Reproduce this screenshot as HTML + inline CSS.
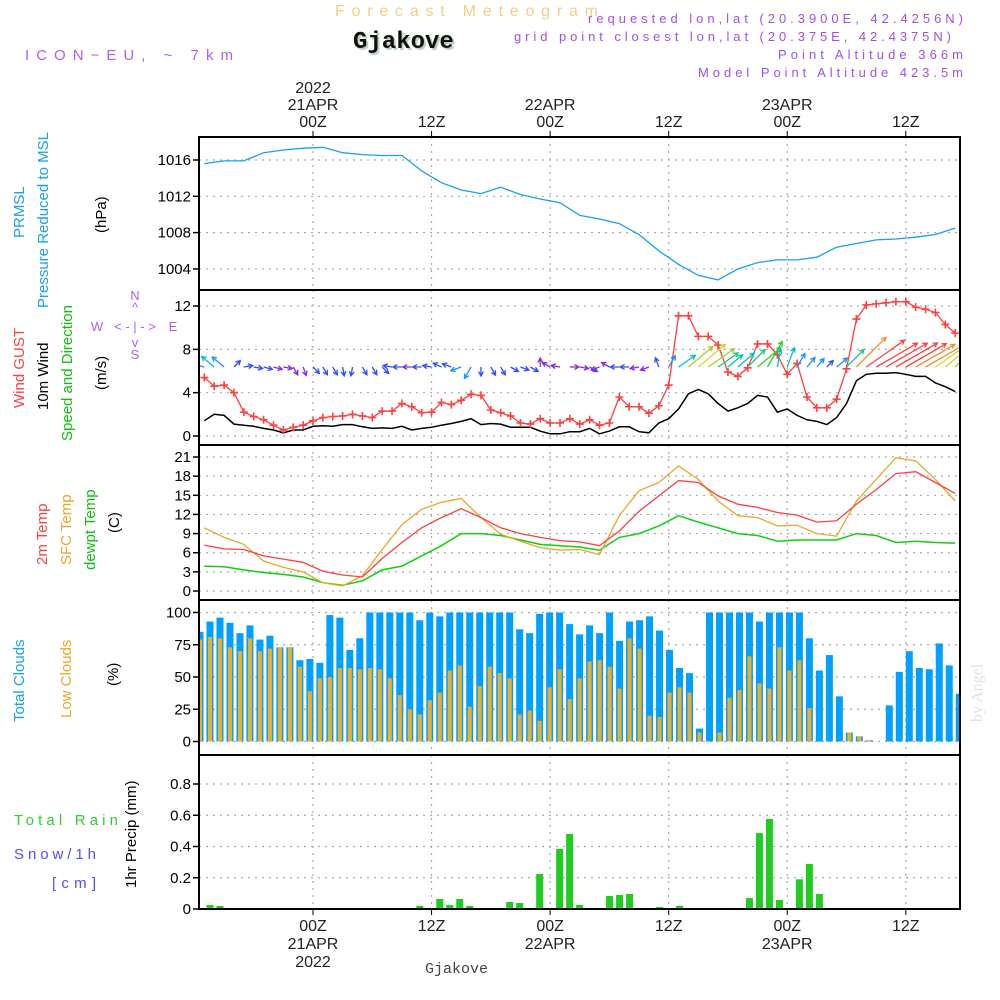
<!DOCTYPE html>
<html><head><meta charset="utf-8"><style>
html,body{margin:0;padding:0;background:#fff;}
svg{display:block;font-family:"Liberation Sans",sans-serif;}
</style></head><body>
<svg id="chart" width="1000" height="1000" viewBox="0 0 1000 1000" xmlns="http://www.w3.org/2000/svg">
<rect x="0" y="0" width="1000" height="1000" fill="#fff"/>
<text x="335" y="16" font-size="16" fill="#f3cf85" textLength="263">Forecast Meteogram</text>
<text x="355" y="50" font-size="24" font-weight="bold" font-family="Liberation Mono, monospace" fill="#bcd3bc">Gjakove</text>
<text x="353" y="48" font-size="24" font-weight="bold" font-family="Liberation Mono, monospace" fill="#111">Gjakove</text>
<text x="25" y="60" font-size="15" fill="#b060f0" textLength="208">ICON−EU, ~ 7km</text>
<g font-size="13" fill="#a050e8" text-anchor="end">
<text x="963" y="23" textLength="375">requested lon,lat (20.3900E, 42.4256N)</text>
<text x="951" y="41" textLength="437">grid point closest lon,lat (20.375E, 42.4375N)</text>
<text x="963" y="59" textLength="185">Point Altitude 366m</text>
<text x="963" y="77" textLength="265">Model Point Altitude 423.5m</text>
</g>
<g id="grid"></g>
<g id="marks"></g>
<g id="axes"></g>
<g font-size="15">
<text transform="translate(24,238) rotate(-90)" fill="#18a0f0">PRMSL</text>
<text transform="translate(48,308) rotate(-90)" fill="#18a0f0">Pressure Reduced to MSL</text>
<text transform="translate(106,233) rotate(-90)" fill="#000">(hPa)</text>
<text transform="translate(24,408) rotate(-90)" fill="#ff4040">Wind GUST</text>
<text transform="translate(48,410) rotate(-90)" fill="#000">10m Wind</text>
<text transform="translate(72,441) rotate(-90)" fill="#10c010">Speed and Direction</text>
<text transform="translate(106,390) rotate(-90)" fill="#000">(m/s)</text>
<text transform="translate(47,565) rotate(-90)" fill="#ff4040">2m Temp</text>
<text transform="translate(71,565) rotate(-90)" fill="#e8a828">SFC Temp</text>
<text transform="translate(95,570) rotate(-90)" fill="#10c010">dewpt Temp</text>
<text transform="translate(119,533) rotate(-90)" fill="#000">(C)</text>
<text transform="translate(24,722) rotate(-90)" fill="#18a0f0">Total Clouds</text>
<text transform="translate(71,718) rotate(-90)" fill="#e8a828">Low Clouds</text>
<text transform="translate(118,686) rotate(-90)" fill="#000">(%)</text>
<text transform="translate(136,888) rotate(-90)" fill="#000">1hr Precip (mm)</text>
<text x="14" y="825" fill="#30d030" textLength="104">Total  Rain</text>
<text x="14" y="859" fill="#5050ff" textLength="82">Snow/1h</text>
<text x="52" y="888" fill="#5050ff" textLength="44">[cm]</text>
</g>
<g font-size="13" fill="#b060f0" text-anchor="middle">
<text x="135" y="300">N</text><text x="135" y="312">^</text>
<text x="135" y="331">&lt; - | - &gt;</text>
<text x="97" y="331">W</text><text x="173" y="331">E</text>
<text x="135" y="347">v</text><text x="135" y="359">S</text>
</g>
<text transform="translate(982,722) rotate(-90)" font-size="16" font-family="Liberation Serif, serif" fill="#dde4dd">by Angel</text>
<text x="425" y="973" font-size="15" font-family="Liberation Mono, monospace" fill="#444">Gjakove</text>
</svg>
<script>
// ---- data ----
const tickHours = [0, 12, 24, 36, 48, 60];
const topTickLabels = [["2022","21APR","00Z"],["12Z"],["22APR","00Z"],["12Z"],["23APR","00Z"],["12Z"]];
const bottomTickLabels = [["00Z","21APR","2022"],["12Z"],["00Z","22APR"],["12Z"],["00Z","23APR"],["12Z"]];
const pressureTicks = [1004, 1008, 1012, 1016];
const windTicks = [0, 4, 8, 12];
const tempTicks = [0, 3, 6, 9, 12, 15, 18, 21];
const cloudTicks = [0, 25, 50, 75, 100];
const precipTicks = [0, 0.2, 0.4, 0.6, 0.8];

const pressureHours = [-11,-9,-7,-5,-3,-1,1,3,5,7,9,11,13,15,17,19,21,23,25,27,29,31,33,35,37,39,41,43,45,47,49,51,53,55,57,59,61,63,65];
const pressure = [1015.6,1015.9,1015.9,1016.8,1017.1,1017.3,1017.4,1016.8,1016.6,1016.5,1016.5,1014.8,1013.5,1012.7,1012.3,1013.0,1012.2,1011.7,1011.3,1009.9,1009.5,1009.0,1007.8,1006.0,1004.5,1003.3,1002.8,1004.0,1004.7,1005.0,1005.0,1005.3,1006.4,1006.8,1007.2,1007.3,1007.5,1007.8,1008.5];

const windHourStart = -11;
const gust = [5.4,4.6,4.7,4.0,2.2,1.8,1.5,1.0,0.55,0.8,1.0,1.4,1.7,1.8,1.85,2.0,1.85,1.7,2.3,2.3,3.0,2.7,2.15,2.2,3.1,2.9,3.3,3.85,3.75,2.4,2.15,1.85,1.2,1.1,1.6,1.2,1.2,1.6,1.1,1.5,
 1.0,1.2,3.6,2.7,2.7,2.1,2.8,4.7,11.1,11.1,9.2,9.2,8.4,5.9,5.5,6.3,8.5,8.5,7.5,5.7,6.7,3.6,2.6,2.6,3.4,6.2,10.8,12.1,12.2,12.3,12.4,12.4,11.9,11.7,11.4,10.3,9.5];
const windSpeed = [1.4,2.0,1.9,1.1,1.0,0.9,0.7,0.55,0.3,0.55,0.55,0.9,0.95,0.9,1.05,1.05,0.85,0.7,0.75,0.7,0.9,0.55,0.7,0.8,1.0,1.15,1.35,1.6,1.05,1.15,1.1,0.8,0.8,0.8,0.45,0.2,0.2,0.4,0.4,0.7,
 0.2,0.45,0.85,0.85,0.4,0.3,1.2,1.6,2.5,3.9,4.3,3.9,3.0,2.3,2.6,3.0,3.75,3.6,2.2,2.5,1.9,1.5,1.35,1.05,1.7,3.0,5.1,5.7,5.8,5.8,5.85,5.7,5.5,5.5,4.9,4.55,4.1];
const windDir = [165,140,140,45,10,-10,-15,-15,-10,-60,-70,-45,-60,-60,-80,-100,-60,-60,-45,170,180,180,180,170,155,160,200,-120,-90,-60,-60,-30,-20,-30,90,150,170,0,-10,-30,
 200,150,180,180,190,200,110,60,35,40,40,35,35,40,40,45,40,60,80,70,60,50,50,45,40,45,45,35,30,30,30,30,30,30,35,40,45];

const tempHours = pressureHours;
const temp2m = [7.2,6.6,6.5,5.5,5.0,4.5,3.1,2.5,2.2,5.1,7.6,9.9,11.5,12.9,11.5,9.9,9.0,8.4,7.9,7.7,7.1,9.4,12.5,14.9,17.3,17.0,14.9,13.6,13.1,12.3,11.9,10.8,11.0,13.6,15.9,18.4,18.7,17.0,15.3];
const tempSfc = [9.9,8.4,7.3,4.7,3.7,3.0,1.3,0.8,2.4,6.5,10.4,12.8,13.9,14.5,11.5,8.9,7.8,6.8,6.4,6.5,5.7,11.8,15.7,17.0,19.6,17.5,14.1,11.8,11.5,10.2,10.3,9.0,8.6,14.1,17.5,20.9,20.4,17.5,14.1];
const dewpt = [3.9,3.8,3.3,2.9,2.6,2.2,1.3,0.9,1.6,3.3,3.9,5.5,7.1,9.0,9.0,8.7,8.0,7.3,7.1,6.9,6.4,8.4,9.0,10.2,11.8,10.8,9.9,9.0,8.7,7.8,8.0,8.0,8.0,9.0,8.7,7.6,7.8,7.6,7.5];

const totalClouds = [85,93,96,92,84,90,79,82,73,73,63,64,61,98,96,71,80,100,100,100,100,100,94,100,97,100,100,100,100,100,100,100,87,84,99,100,100,91,83,90,
 84,100,78,93,94,97,86,71,57,53,10,100,100,100,100,100,93,100,100,100,100,80,55,67,35,7,4,1,0,28,54,70,57,56,76,59,37];
const lowClouds = [79,81,80,73,70,80,70,72,73,73,58,39,49,50,57,57,56,57,56,49,36,25,21,32,38,55,59,27,43,58,53,49,21,24,16,42,56,33,49,62,
 63,58,41,80,72,20,19,38,42,38,7,0,7,34,40,66,45,41,73,55,63,26,0,0,0,7,4,1,0,0,0,0,0,0,0,0,0];

const precipIndex = [1,2,22,24,25,26,27,31,32,34,36,37,38,41,42,43,46,48,55,56,57,58,60,61,62];
const precip = [0.026,0.019,0.02,0.064,0.026,0.064,0.02,0.045,0.038,0.224,0.384,0.48,0.026,0.083,0.09,0.096,0.013,0.02,0.07,0.486,0.576,0.058,0.19,0.288,0.096];

// ---- scales ----
const X0 = 199, X1 = 960;
const tx = h => 313 + 9.88 * h;
const xb = i => 200 + 9.99 * i;
const yP = v => 160 + (1016 - v) * 9.08;
const yW = v => 436 - v * 10.83;
const yT = v => 591 - v * 6.38;
const yC = v => 741.5 - v * 1.29;
const yR = v => 909 - v * 156.25;
const panels = [[137,290],[290,445],[445,600],[600,755],[755,909]];

const NS = "http://www.w3.org/2000/svg";
function mk(tag, attrs, parent) {
  const e = document.createElementNS(NS, tag);
  for (const k in attrs) e.setAttribute(k, attrs[k]);
  parent.appendChild(e);
  return e;
}
const grid = document.getElementById('grid');
const marks = document.getElementById('marks');
const axes = document.getElementById('axes');

const defs = mk('defs', {}, document.getElementById('chart'));
panels.forEach((p, k) => {
  const cp = mk('clipPath', {id: 'clip' + k}, defs);
  mk('rect', {x: X0, y: p[0], width: X1 - X0, height: p[1] - p[0]}, cp);
});

tickHours.forEach(h => {
  panels.forEach(p => {
    const l = mk('line', {x1: tx(h), x2: tx(h), y1: p[0], y2: p[1], stroke: '#aaa', 'stroke-dasharray': '2,5', 'stroke-width': 1.2}, grid);
    
    
  });
});

function yAxis(ticks, sc, fmt, name) {
  ticks.forEach(v => {
    const y = sc(v);
    const g = mk('line', {x1: X0, x2: X1, y1: y, y2: y, stroke: '#aaa', 'stroke-dasharray': '2,5', 'stroke-width': 1.2}, grid);
    
    
    mk('line', {x1: X0 - 6, x2: X0, y1: y, y2: y, stroke: '#000', 'stroke-width': 1.5}, axes);
    const t = mk('text', {x: X0 - 8, y: y + 5, 'text-anchor': 'end', 'font-size': 15, fill: '#000'}, axes);
    t.textContent = fmt(v);
    
    
  });
}
yAxis(pressureTicks, yP, v => v, 'pressure');
yAxis(windTicks, yW, v => v, 'wind');
yAxis(tempTicks, yT, v => v, 'temp');
yAxis(cloudTicks, yC, v => v, 'cloud');
yAxis(precipTicks, yR, v => v === 0 ? '0' : v.toFixed(1), 'precip');

tickHours.forEach((h, k) => {
  const x = tx(h);
  mk('line', {x1: x, x2: x, y1: 131, y2: 137, stroke: '#000', 'stroke-width': 1}, axes);
  mk('line', {x1: x, x2: x, y1: 909, y2: 915, stroke: '#000', 'stroke-width': 1}, axes);
  const top = topTickLabels[k];
  top.forEach((s, j) => {
    const t = mk('text', {x: x, y: 127 - (top.length - 1 - j) * 17, 'text-anchor': 'middle', 'font-size': 16, fill: '#222'}, axes);
    t.textContent = s;
    
    
  });
  bottomTickLabels[k].forEach((s, j) => {
    const t = mk('text', {x: x, y: 931 + j * 18, 'text-anchor': 'middle', 'font-size': 16, fill: '#222'}, axes);
    t.textContent = s;
    
    
  });
});

panels.forEach(p => {
  const r = mk('rect', {x: X0, y: p[0], width: X1 - X0, height: p[1] - p[0], fill: 'none', stroke: '#000', 'stroke-width': 2}, axes);
  
  
});

function line(xs, ys, color, name, clip, w) {
  const pts = xs.map((x, i) => x.toFixed(1) + ',' + ys[i].toFixed(1)).join(' ');
  const pl = mk('polyline', {points: pts, fill: 'none', stroke: color, 'stroke-width': w || 1.3, 'clip-path': 'url(#clip' + clip + ')'}, marks);
  
  
}

line(pressureHours.map(tx), pressure.map(yP), '#18a0f0', 'pressure-line', 0);

const windX = windSpeed.map((_, i) => tx(windHourStart + i));
line(windX, windSpeed.map(yW), '#000', 'wind-speed-line', 1, 1.5);
line(windX, gust.map(yW), '#ff4040', 'wind-gust-line', 1);
gust.forEach((v, i) => {
  const x = windX[i], y = yW(v);
  const c = mk('path', {d: `M${x-4},${y}H${x+4}M${x},${y-4}V${y+4}`, stroke: '#ff4040', 'stroke-width': 1.6}, marks);
  
  
});
function windColor(s) {
  if (s < 0.7) return '#8a2be2';
  if (s < 1.3) return '#3050ff';
  if (s < 2.0) return '#1e90ff';
  if (s < 2.8) return '#00c0d0';
  if (s < 3.4) return '#20c880';
  if (s < 3.8) return '#30d030';
  if (s < 4.2) return '#a8d030';
  if (s < 5.0) return '#e0d030';
  if (s < 5.6) return '#f09030';
  return '#ff4040';
}
windSpeed.forEach((s, i) => {
  const x = windX[i], y = 367;
  const len = Math.max(9, s * 8.2);
  const a = windDir[i] * Math.PI / 180;
  const x2 = x + len * Math.cos(a), y2 = y - len * Math.sin(a);
  const h1 = a + Math.PI - 0.5, h2 = a + Math.PI + 0.5;
  const d = `M${x},${y}L${x2},${y2}M${x2 + 5*Math.cos(h1)},${y2 - 5*Math.sin(h1)}L${x2},${y2}L${x2 + 5*Math.cos(h2)},${y2 - 5*Math.sin(h2)}`;
  const p = mk('path', {d: d, stroke: windColor(s), 'stroke-width': 1.3, fill: 'none', 'clip-path': 'url(#clip1)'}, marks);
  
  
});

const tX = tempHours.map(tx);
line(tX, dewpt.map(yT), '#10d010', 'dewpoint-line', 2, 1.5);
line(tX, tempSfc.map(yT), '#e8a828', 'sfc-temp-line', 2);
line(tX, temp2m.map(yT), '#ff4040', 'temp-2m-line', 2);

totalClouds.forEach((v, i) => {
  const b = mk('rect', {x: xb(i) - 3.5, y: yC(v), width: 7, height: Math.max(0, yC(0) - yC(v)), fill: '#00a0ff', 'clip-path': 'url(#clip3)'}, marks);
  
  
});
lowClouds.forEach((v, i) => {
  const b = mk('rect', {x: xb(i) - 2, y: yC(v), width: 4, height: Math.max(0, yC(0) - yC(v)), fill: '#e8b030', 'clip-path': 'url(#clip3)'}, marks);
  
  
});

precip.forEach((v, k) => {
  const x = xb(precipIndex[k]);
  const b = mk('rect', {x: x - 3.5, y: yR(v), width: 7, height: yR(0) - yR(v), fill: '#20cc20'}, marks);
  
  
});
</script>
</body></html>
